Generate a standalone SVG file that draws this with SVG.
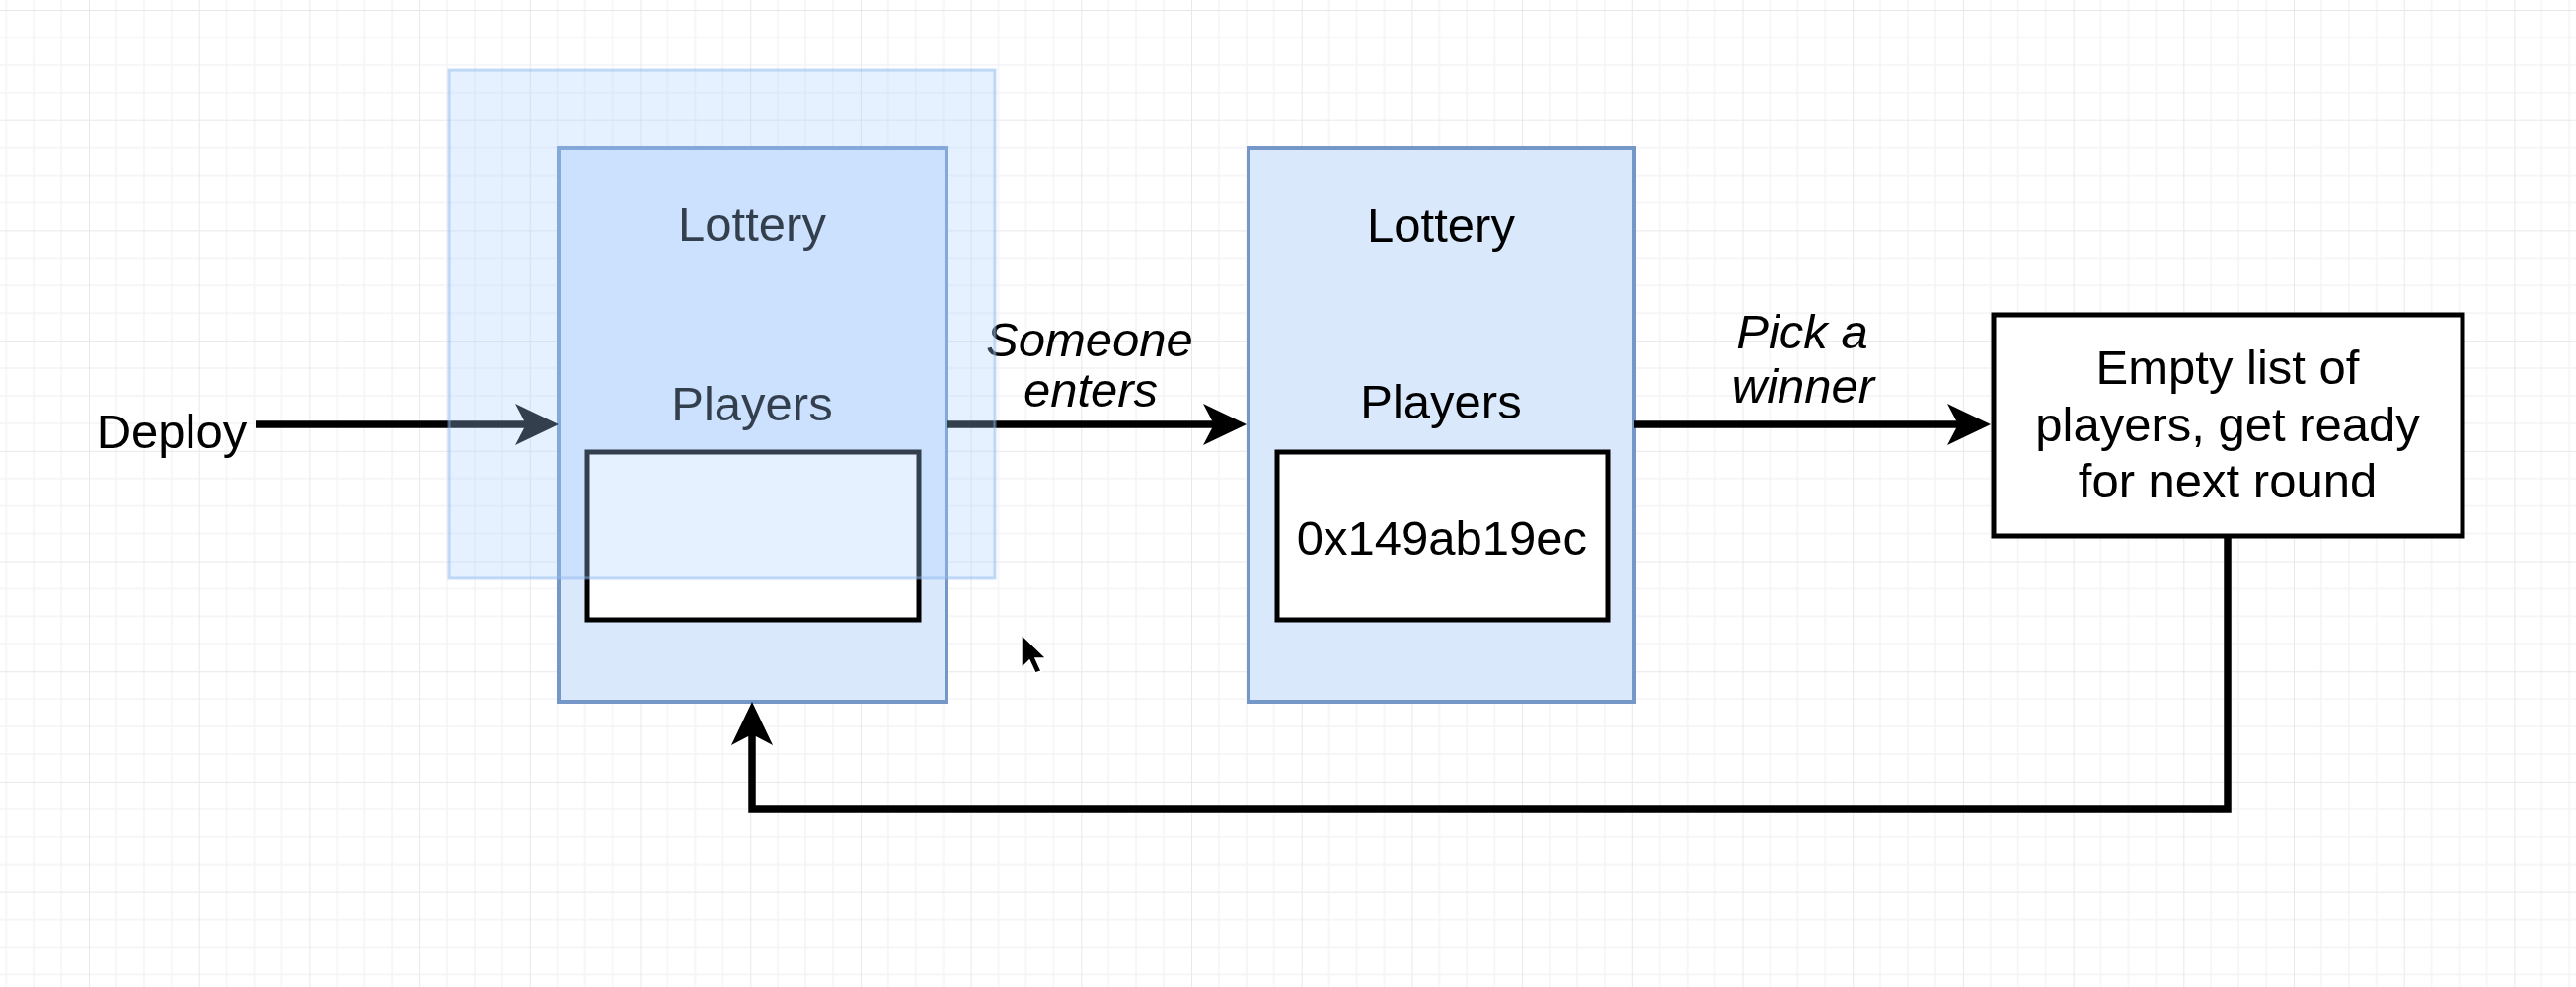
<svg xmlns="http://www.w3.org/2000/svg" width="2610" height="1000" viewBox="0 0 2610 1000">
<defs>
<style>
.t{font-family:"Liberation Sans",Arial,sans-serif;font-size:49px;fill:#000;text-anchor:middle}
.i{font-style:italic}
.box{fill:#dae8fc;stroke:#7597c8;stroke-width:4}
.inner{fill:#fff;stroke:#000;stroke-width:5}
.edge{fill:none;stroke:#000;stroke-width:7.5}
</style>
<pattern id="grid" patternUnits="userSpaceOnUse" x="90" y="10" width="111.7" height="111.7">
<path d="M27.9,0V111.7M55.85,0V111.7M83.8,0V111.7M0,27.9H111.7M0,55.85H111.7M0,83.8H111.7" stroke="#f4f4f6" stroke-width="1.5" fill="none"/>
<path d="M0,0V111.7M0,0H111.7" stroke="#e8e8ec" stroke-width="2" fill="none"/>
</pattern>
<marker id="arr" markerUnits="userSpaceOnUse" viewBox="0 0 44 44" markerWidth="44" markerHeight="44" refX="11" refY="22" orient="auto">
<path d="M0,1 L44,22 L0,43 L11,22 Z" fill="#000"/>
</marker>
</defs>
<rect width="2610" height="1000" fill="#fff"/>
<rect width="2610" height="1000" fill="url(#grid)"/>
<g id="lottery1">
<rect class="box" x="566" y="150" width="393" height="561"/>
<text class="t" x="762" y="244">Lottery</text>
<text class="t" x="762" y="426">Players</text>
<rect class="inner" x="595" y="458" width="336" height="170"/>
</g>
<g id="lottery2">
<rect class="box" x="1265" y="150" width="391" height="561"/>
<text class="t" x="1460" y="245">Lottery</text>
<text class="t" x="1460" y="424">Players</text>
<rect class="inner" x="1294" y="458" width="335" height="170"/>
<text class="t" x="1461" y="562">0x149ab19ec</text>
</g>
<g id="reset">
<rect x="2020" y="319" width="475" height="224" fill="#fff" stroke="#000" stroke-width="5"/>
<text class="t" x="2257" y="389">Empty list of</text>
<text class="t" x="2257" y="447">players, get ready</text>
<text class="t" x="2257" y="504">for next round</text>
</g>
<g id="deploy">
<text class="t" x="174" y="454">Deploy</text>
</g>
<g id="connectors">
<path class="edge" d="M259,430 H533" marker-end="url(#arr)"/>
<path class="edge" d="M959,430 H1230" marker-end="url(#arr)"/>
<text class="t i" x="1104" y="361">Someone</text>
<text class="t i" x="1105" y="412">enters</text>
<path class="edge" d="M1656,430 H1984" marker-end="url(#arr)"/>
<text class="t i" x="1826" y="353">Pick a</text>
<text class="t i" x="1827" y="408">winner</text>
<path class="edge" d="M2257,543 V820 H762 V744" marker-end="url(#arr)"/>
</g>
<g id="drag-preview">
<rect x="455" y="71" width="553" height="515" fill="#a8d0ff" fill-opacity="0.3" stroke="#8fb8ee" stroke-opacity="0.5" stroke-width="3"/>
</g>
<g id="cursor">
<path d="M1035,643 L1035,677 L1043,669 L1049,682 L1055,680 L1049,667 L1060,667 Z" fill="#000" stroke="#fff" stroke-width="1.5"/>
</g>
</svg>
